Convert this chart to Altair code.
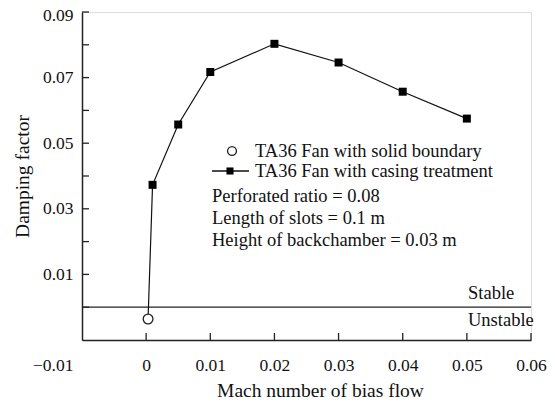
import altair as alt
import pandas as pd

# --- data ---
solid_x = [0.0003]
solid_y = [-0.0036]

casing_x = [0.001, 0.005, 0.01, 0.02, 0.03, 0.04, 0.05]
casing_y = [0.0373, 0.0557, 0.0717, 0.0803, 0.0746, 0.0657, 0.0575]

x_ticks = [0.0, 0.01, 0.02, 0.03, 0.04, 0.05, 0.06]
y_ticks = [0.0, 0.01, 0.02, 0.03, 0.04, 0.05, 0.06, 0.07, 0.08, 0.09]
x_labels = [-0.01, 0.0, 0.01, 0.02, 0.03, 0.04, 0.05, 0.06]
y_labels = [0.01, 0.03, 0.05, 0.07, 0.09]

legend_texts = ["TA36 Fan with solid boundary", "TA36 Fan with casing treatment"]
note_texts = ["Perforated ratio = 0.08", "Length of slots = 0.1 m",
              "Height of backchamber = 0.03 m"]
region_texts = ["Stable", "Unstable"]

FONT = "Liberation Serif"
FS_TICK = 17.5
FS_TEXT = 18.5
FS_TITLE = 19.5
INK = "#111"
W, H = 449, 328

xs = alt.Scale(domain=[-0.01, 0.06], nice=False, zero=False)
ys = alt.Scale(domain=[-0.01, 0.09], nice=False, zero=False)

solid_df = pd.DataFrame({"x": solid_x, "y": solid_y})
casing_df = pd.DataFrame({"x": casing_x, "y": casing_y})
line_df = pd.DataFrame({"x": solid_x + casing_x, "y": solid_y + casing_y})

xaxis = alt.Axis(
    values=x_labels, ticks=False, grid=False,
    labelExpr="datum.value == 0 ? '0' : format(datum.value, '.2f')",
    labelAlign={"condition": {"test": "datum.value < 0", "value": "right"}, "value": "center"},
    labelOffset={"condition": {"test": "datum.value < 0", "value": -9}, "value": 0},
    labelPadding=16, labelFont=FONT, labelFontSize=FS_TICK, labelColor=INK,
    domainColor="#222", domainWidth=1.5,
    title="Mach number of bias flow", titleFont=FONT, titleFontSize=FS_TITLE,
    titleFontWeight="normal", titleColor=INK, titleX=238, titleY=50,
    titleBaseline="middle",
)
yaxis = alt.Axis(
    values=y_labels, ticks=False, grid=False,
    labelExpr="format(datum.value, '.2f')",
    labelOffset={"condition": {"test": "datum.value > 0.085", "value": 3}, "value": 0},
    labelPadding=9, labelFont=FONT, labelFontSize=FS_TICK, labelColor=INK,
    domainColor="#222", domainWidth=1.5,
    title="Damping factor", titleFont=FONT, titleFontSize=FS_TITLE,
    titleFontWeight="normal", titleColor=INK, titleX=-60, titleY=164,
    titleBaseline="middle",
)

base_axes = alt.Chart(casing_df).mark_point(opacity=0).encode(
    x=alt.X("x:Q", scale=xs, axis=xaxis),
    y=alt.Y("y:Q", scale=ys, axis=yaxis),
)

xt = alt.Chart(pd.DataFrame({"x": x_ticks})).mark_rule(color="#222", strokeWidth=1.3).encode(
    x=alt.X("x:Q", scale=xs), y=alt.value(H), y2=alt.value(H - 7))
yt = alt.Chart(pd.DataFrame({"y": y_ticks})).mark_rule(color="#222", strokeWidth=1.3).encode(
    y=alt.Y("y:Q", scale=ys), x=alt.value(0), x2=alt.value(7))

zero_line = alt.Chart(pd.DataFrame({"y": [0.0]})).mark_rule(color="#222", strokeWidth=1.3).encode(
    y=alt.Y("y:Q", scale=ys), x=alt.value(0), x2=alt.value(W))

line = alt.Chart(line_df).mark_line(color="#111", strokeWidth=1.2).encode(
    x=alt.X("x:Q", scale=xs), y=alt.Y("y:Q", scale=ys), order="x:Q")
squares = alt.Chart(casing_df).mark_square(color="#000", opacity=1, size=64).encode(
    x=alt.X("x:Q", scale=xs), y=alt.Y("y:Q", scale=ys))
circle = alt.Chart(solid_df).mark_point(shape="circle", filled=False, fill="white",
                                       fillOpacity=1, stroke="#222", strokeWidth=1.3,
                                       size=95, opacity=1).encode(
    x=alt.X("x:Q", scale=xs), y=alt.Y("y:Q", scale=ys))

one = pd.DataFrame({"k": [0]})

# legend (manual)
leg_circle = alt.Chart(one).mark_point(
    shape="circle", filled=False, stroke="#222", strokeWidth=1.3, size=80, opacity=1
).encode(x=alt.value(150), y=alt.value(139))
leg_dash = alt.Chart(one).mark_rule(color="#111", strokeWidth=1.3).encode(
    x=alt.value(130), x2=alt.value(167), y=alt.value(159))
leg_sq = alt.Chart(one).mark_square(color="#000", size=50, opacity=1).encode(
    x=alt.value(148), y=alt.value(159))


def text_layer(txt, xpx, ypx, fs=FS_TEXT, align="left"):
    return alt.Chart(pd.DataFrame({"t": [txt]})).mark_text(
        align=align, baseline="middle", font=FONT, fontSize=fs, color=INK
    ).encode(x=alt.value(xpx), y=alt.value(ypx), text="t:N")


texts = []
for t, yy in zip(legend_texts, [139, 159]):
    texts.append(text_layer(t, 173, yy))
for t, yy in zip(note_texts, [184, 206, 228]):
    texts.append(text_layer(t, 130, yy))
for t, yy in zip(region_texts, [281, 308]):
    texts.append(text_layer(t, 386, yy))

chart = alt.layer(
    base_axes, xt, yt, zero_line, line, squares, circle,
    leg_circle, leg_dash, leg_sq, *texts
).properties(
    width=W, height=H,
    autosize=alt.AutoSizeParams(type="none"),
    padding={"left": 74, "top": 4, "right": 16, "bottom": 59},
).configure_view(stroke=None).configure(background="white")

chart.save("out.html", embed_options={"renderer": "svg", "actions": False})
